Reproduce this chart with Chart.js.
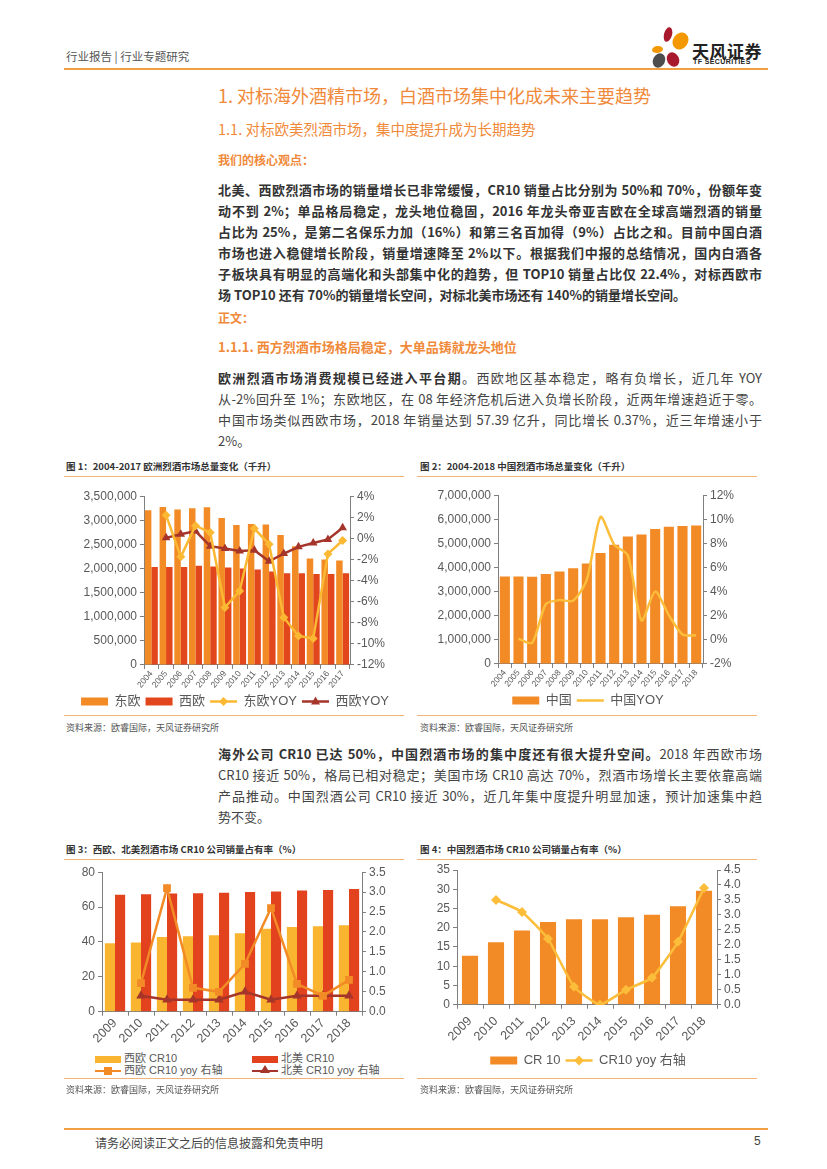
<!DOCTYPE html>
<html>
<head>
<meta charset="utf-8">
<script src="https://cdn.jsdelivr.net/npm/chart.js@4.4.1/dist/chart.umd.min.js"></script>
<style>
body { margin: 0; width: 827px; height: 1169px; position: relative; background: #fff; font-family: "Noto Sans CJK SC", "Noto Sans", sans-serif; color: #333; overflow: hidden; }
.a { position: absolute; white-space: nowrap; }
.hline { position: absolute; height: 1px; background: #F2B27A; }
.orange { color: #F08A3A; }
.ln { position: absolute; left: 218px; width: 544px; line-height: 20px; font-size: 13px; white-space: nowrap; text-align: justify; text-align-last: justify; }
.ln.last { text-align-last: left; }
.bold { font-weight: bold; color: #333; }
.norm { color: #444; }
.figt { position: absolute; font-size: 9.5px; font-weight: bold; color: #333; white-space: nowrap; }
.src { position: absolute; font-size: 9px; color: #555; white-space: nowrap; }
.box { position: absolute; }
.petal { position: absolute; border-radius: 50%; }
.lg3 { position: absolute; font-size: 11px; color: #595959; font-family: "Liberation Sans", "Noto Sans CJK SC", sans-serif; white-space: nowrap; }
.lg3 i { display: inline-block; vertical-align: middle; position: relative; margin-right: 3px; }
</style>
</head>
<body>

<!-- header -->
<div class="a" style="left:66px;top:48px;font-size:11.5px;color:#555;">行业报告 | 行业专题研究</div>
<div class="petal" style="left:664px;top:27px;width:8px;height:15px;background:#A8192E;transform:rotate(15deg);"></div>
<div class="petal" style="left:673px;top:32px;width:15px;height:18px;background:#F39800;transform:rotate(35deg);"></div>
<div class="petal" style="left:652px;top:46px;width:11px;height:7px;background:#F39800;transform:rotate(-10deg);"></div>
<div class="petal" style="left:653px;top:53px;width:12px;height:15px;background:#4D4D4D;transform:rotate(25deg);"></div>
<div class="petal" style="left:667px;top:52px;width:12px;height:15px;background:#A8192E;transform:rotate(-25deg);"></div>
<div class="a" style="left:692px;top:38px;font-size:17px;font-weight:bold;color:#222;letter-spacing:0.5px;">天风证券</div>
<div class="a" style="left:693px;top:58px;font-size:7px;color:#222;font-family:'Liberation Sans',sans-serif;font-weight:bold;letter-spacing:0.4px;">TF SECURITIES</div>
<div class="hline" style="left:64px;top:68px;width:704px;height:2px;background:#F0A040;"></div>

<!-- headings and text -->
<div class="a orange" style="left:218px;top:82px;font-size:18px;">1. 对标海外酒精市场，白酒市场集中化成未来主要趋势</div>
<div class="a orange" style="left:218px;top:118px;font-size:14.5px;">1.1. 对标欧美烈酒市场，集中度提升成为长期趋势</div>
<div class="a orange" style="left:218px;top:151px;font-size:12px;font-weight:bold;">我们的核心观点：</div>

<div class="ln bold" style="top:180px;">北美、西欧烈酒市场的销量增长已非常缓慢，CR10 销量占比分别为 50%和 70%，份额年变</div>
<div class="ln bold" style="top:201px;">动不到 2%；单品格局稳定，龙头地位稳固，2016 年龙头帝亚吉欧在全球高端烈酒的销量</div>
<div class="ln bold" style="top:222px;">占比为 25%，是第二名保乐力加（16%）和第三名百加得（9%）占比之和。目前中国白酒</div>
<div class="ln bold" style="top:243px;">市场也进入稳健增长阶段，销量增速降至 2%以下。根据我们中报的总结情况，国内白酒各</div>
<div class="ln bold" style="top:264px;">子板块具有明显的高端化和头部集中化的趋势，但 TOP10 销量占比仅 22.4%，对标西欧市</div>
<div class="ln bold last" style="top:285px;">场 TOP10 还有 70%的销量增长空间，对标北美市场还有 140%的销量增长空间。</div>

<div class="a orange" style="left:218px;top:309px;font-size:12px;font-weight:bold;">正文：</div>
<div class="a orange" style="left:218px;top:337px;font-size:13px;font-weight:bold;">1.1.1. 西方烈酒市场格局稳定，大单品铸就龙头地位</div>

<div class="ln norm" style="top:368px;"><span class="bold">欧洲烈酒市场消费规模已经进入平台期</span>。西欧地区基本稳定，略有负增长，近几年 YOY</div>
<div class="ln norm" style="top:389px;">从-2%回升至 1%；东欧地区，在 08 年经济危机后进入负增长阶段，近两年增速趋近于零。</div>
<div class="ln norm" style="top:410px;">中国市场类似西欧市场，2018 年销量达到 57.39 亿升，同比增长 0.37%，近三年增速小于</div>
<div class="ln norm last" style="top:431px;">2%。</div>

<!-- figure 1 / 2 frames -->
<div class="figt" style="left:66px;top:459px;">图 1：2004-2017 欧洲烈酒市场总量变化（千升）</div>
<div class="figt" style="left:420px;top:459px;">图 2：2004-2018 中国烈酒市场总量变化（千升）</div>
<div class="hline" style="left:64px;top:476px;width:340px;"></div>
<div class="hline" style="left:417px;top:476px;width:340px;"></div>
<div class="box" style="left:64px;top:486px;width:342px;height:232px;"><canvas id="chart1"></canvas></div>
<div class="box" style="left:417px;top:485px;width:342px;height:232px;"><canvas id="chart2"></canvas></div>
<div class="hline" style="left:64px;top:715px;width:340px;"></div>
<div class="hline" style="left:417px;top:715px;width:340px;"></div>
<div class="src" style="left:66px;top:721px;">资料来源：欧睿国际，天风证券研究所</div>
<div class="src" style="left:420px;top:721px;">资料来源：欧睿国际，天风证券研究所</div>

<div class="ln norm" style="top:744px;"><span class="bold">海外公司 CR10 已达 50%，中国烈酒市场的集中度还有很大提升空间。</span>2018 年西欧市场</div>
<div class="ln norm" style="top:765px;">CR10 接近 50%，格局已相对稳定；美国市场 CR10 高达 70%，烈酒市场增长主要依靠高端</div>
<div class="ln norm" style="top:786px;">产品推动。中国烈酒公司 CR10 接近 30%，近几年集中度提升明显加速，预计加速集中趋</div>
<div class="ln norm last" style="top:807px;">势不变。</div>

<!-- figure 3 / 4 frames -->
<div class="figt" style="left:66px;top:842px;">图 3：西欧、北美烈酒市场 CR10 公司销量占有率（%）</div>
<div class="figt" style="left:420px;top:842px;">图 4：中国烈酒市场 CR10 公司销量占有率（%）</div>
<div class="hline" style="left:64px;top:859px;width:340px;"></div>
<div class="hline" style="left:417px;top:859px;width:340px;"></div>
<div class="box" style="left:64px;top:862px;width:342px;height:184px;"><canvas id="chart3"></canvas></div>
<div class="box" style="left:417px;top:849px;width:342px;height:228px;"><canvas id="chart4"></canvas></div>

<div class="lg3" style="left:95px;top:1049px;"><i style="width:26px;height:7px;background:#F9B530;"></i>西欧 CR10</div>
<div class="lg3" style="left:252px;top:1049px;"><i style="width:26px;height:7px;background:#E2421D;"></i>北美 CR10</div>
<div class="lg3" style="left:95px;top:1061px;"><i style="width:26px;height:2.5px;background:#F28A26;"><b style="position:absolute;left:9px;top:-3px;width:8px;height:8px;background:#F28A26;"></b></i>西欧 CR10 yoy 右轴</div>
<div class="lg3" style="left:252px;top:1061px;"><i style="width:26px;height:2.5px;background:#A5352A;"><b style="position:absolute;left:8px;top:-5px;width:0;height:0;border-left:5px solid transparent;border-right:5px solid transparent;border-bottom:8px solid #A5352A;"></b></i>北美 CR10 yoy 右轴</div>

<div class="hline" style="left:64px;top:1078px;width:340px;"></div>
<div class="hline" style="left:417px;top:1078px;width:340px;"></div>
<div class="src" style="left:66px;top:1083px;">资料来源：欧睿国际，天风证券研究所</div>
<div class="src" style="left:420px;top:1083px;">资料来源：欧睿国际，天风证券研究所</div>

<!-- footer -->
<div class="hline" style="left:64px;top:1128px;width:704px;height:2px;background:#F0A040;"></div>
<div class="a" style="left:95px;top:1134px;font-size:12px;color:#444;">请务必阅读正文之后的信息披露和免责申明</div>
<div class="a" style="left:754px;top:1134px;font-size:12px;color:#444;font-family:'Liberation Sans',sans-serif;">5</div>

<script>
// ---- data ----
var years1 = ['2004', '2005', '2006', '2007', '2008', '2009', '2010', '2011', '2012', '2013', '2014', '2015', '2016', '2017'];
var eastEurope = [3210000, 3278000, 3223000, 3250000, 3271000, 3050000, 2905000, 2925000, 2912000, 2697000, 2460000, 2206000, 2185000, 2165000];
var westEurope = [2033000, 2033000, 2033000, 2060000, 2040000, 2019000, 2000000, 1978000, 1936000, 1902000, 1902000, 1888000, 1888000, 1902000];
var eastYoy = [null, 2.2, -1.75, 1.2, 0.55, -6.56, -4.98, 0.93, -0.55, -7.5, -9.25, -9.5, -1.47, -0.2];
var westYoy = [null, 0.05, 0.4, 0.7, -0.74, -0.96, -1.19, -1.12, -2.17, -1.44, -0.8, -0.43, -0.1, 1.0];

var years2 = ['2004', '2005', '2006', '2007', '2008', '2009', '2010', '2011', '2012', '2013', '2014', '2015', '2016', '2017', '2018'];
var chinaVolume = [3630000, 3630000, 3620000, 3730000, 3840000, 3970000, 4170000, 4600000, 4940000, 5290000, 5370000, 5600000, 5690000, 5720000, 5739000];
var chinaYoy = [null, 0.08, -0.25, 2.95, 3.3, 3.25, 5.0, 10.2, 7.9, 7.0, 1.6, 4.0, 2.05, 0.45, 0.37];

var years3 = ['2009', '2010', '2011', '2012', '2013', '2014', '2015', '2016', '2017', '2018'];
var westCr10 = [39.2, 39.7, 42.8, 43.3, 43.9, 45.0, 47.6, 48.6, 49.0, 49.6];
var naCr10 = [67.0, 67.4, 67.8, 68.0, 68.2, 68.6, 69.0, 69.5, 69.8, 70.3];
var westCr10Yoy = [null, 0.72, 3.1, 0.6, 0.5, 1.2, 2.6, 0.7, 0.4, 0.8];
var naCr10Yoy = [null, 0.4, 0.3, 0.3, 0.3, 0.5, 0.3, 0.4, 0.4, 0.4];

var chinaCr10 = [12.7, 16.2, 19.3, 21.5, 22.2, 22.2, 22.7, 23.4, 25.6, 29.6];
var chinaCr10Yoy = [null, 3.5, 3.1, 2.2, 0.6, 0.0, 0.5, 0.9, 2.1, 3.9];

// ---- shared settings ----
Chart.defaults.font.family = '"Liberation Sans", "Noto Sans CJK SC", sans-serif';
Chart.defaults.color = '#595959';
Chart.defaults.animation = false;

var baseLabels = Chart.defaults.plugins.legend.labels.generateLabels;
function makeLabels(chart) {
    var items = baseLabels(chart);
    items.forEach(function (it) {
        var ds = chart.data.datasets[it.datasetIndex];
        if (ds.type === 'line') {
            it.pointStyle = 'line';
            it.strokeStyle = ds.borderColor;
            it.lineWidth = 2.5;
        } else {
            it.pointStyle = 'rect';
            it.lineWidth = 0;
        }
    });
    return items;
}

function drawMarker(ctx, style, r, x, y) {
    ctx.beginPath();
    if (style === 'rectRot') {
        ctx.moveTo(x, y - r); ctx.lineTo(x + r, y); ctx.lineTo(x, y + r); ctx.lineTo(x - r, y);
    } else if (style === 'triangle') {
        ctx.moveTo(x, y - r); ctx.lineTo(x + r * 0.9, y + r * 0.6); ctx.lineTo(x - r * 0.9, y + r * 0.6);
    } else {
        var h = r * 0.72;
        ctx.rect(x - h, y - h, 2 * h, 2 * h);
    }
    ctx.closePath();
    ctx.fill();
}

// puts the point marker on top of the line sample in the legend
var legendMarkers = {
    id: 'legendMarkers',
    afterDraw: function (chart) {
        var lg = chart.legend;
        if (!lg || !lg.legendHitBoxes || !lg.options.display) return;
        var ctx = chart.ctx;
        var bw = lg.options.labels.pointStyleWidth;
        lg.legendItems.forEach(function (item, i) {
            var ds = chart.data.datasets[item.datasetIndex];
            if (ds.type !== 'line' || !ds.pointRadius) return;
            var hb = lg.legendHitBoxes[i];
            ctx.save();
            ctx.fillStyle = ds.borderColor;
            drawMarker(ctx, ds.pointStyle, ds.pointRadius, hb.left + bw / 2, hb.top + hb.height / 2);
            ctx.restore();
        });
    }
};

function legendOpts(size) {
    return {
        position: 'bottom',
        labels: {
            usePointStyle: true,
            pointStyleWidth: 27,
            boxHeight: 8,
            padding: 5,
            font: { size: size },
            color: '#595959',
            generateLabels: makeLabels,
            sort: function (a, b) { return a.datasetIndex - b.datasetIndex; }
        }
    };
}

function axisGrid() {
    return { drawOnChartArea: false, color: '#7f7f7f', tickLength: 4 };
}

// fixes the width taken by a vertical axis so the plot sits where it should
function fixWidth(w) {
    return function (scale) { scale.width = w; };
}

function thousands(v) { return v.toLocaleString('en-US'); }

// ---- chart 1 ----
new Chart(document.getElementById('chart1'), {
    data: {
        labels: years1,
        datasets: [
            { type: 'bar', label: '东欧', data: eastEurope, backgroundColor: '#F28A26', yAxisID: 'y', order: 2, categoryPercentage: 0.88, barPercentage: 1 },
            { type: 'bar', label: '西欧', data: westEurope, backgroundColor: '#E2461C', yAxisID: 'y', order: 2, categoryPercentage: 0.88, barPercentage: 1 },
            { type: 'line', label: '东欧YOY', data: eastYoy, borderColor: '#FBB832', backgroundColor: '#FBB832', borderWidth: 2.5, pointStyle: 'rectRot', pointRadius: 4.5, pointBorderWidth: 0, yAxisID: 'y1', order: 0 },
            { type: 'line', label: '西欧YOY', data: westYoy, borderColor: '#A5352A', backgroundColor: '#A5352A', borderWidth: 2.5, pointStyle: 'triangle', pointRadius: 5, pointBorderWidth: 0, yAxisID: 'y1', order: 1 }
        ]
    },
    options: {
        maintainAspectRatio: false,
        layout: { padding: { left: 0, right: 0, top: 7, bottom: 0 } },
        plugins: { legend: legendOpts(13), tooltip: { enabled: false } },
        scales: {
            x: { grid: axisGrid(), border: { color: '#7f7f7f' }, ticks: { font: { size: 8.5 }, minRotation: 50, maxRotation: 50, autoSkip: false, padding: 0, color: '#595959' } },
            y: { position: 'left', min: 0, max: 3500000, afterFit: fixWidth(80), grid: axisGrid(), border: { color: '#7f7f7f' }, ticks: { stepSize: 500000, autoSkip: false, font: { size: 12 }, callback: thousands } },
            y1: { position: 'right', min: -12, max: 4, afterFit: fixWidth(56), grid: axisGrid(), border: { color: '#7f7f7f' }, ticks: { stepSize: 2, autoSkip: false, font: { size: 12 }, callback: function (v) { return v + '%'; } } }
        }
    },
    plugins: [legendMarkers]
});

// ---- chart 2 ----
new Chart(document.getElementById('chart2'), {
    data: {
        labels: years2,
        datasets: [
            { type: 'bar', label: '中国', data: chinaVolume, backgroundColor: '#F28A26', yAxisID: 'y', order: 2, categoryPercentage: 0.74, barPercentage: 1 },
            { type: 'line', label: '中国YOY', data: chinaYoy, borderColor: '#FBBD3A', backgroundColor: '#FBBD3A', borderWidth: 2.5, pointRadius: 0, tension: 0.25, yAxisID: 'y1', order: 0 }
        ]
    },
    options: {
        maintainAspectRatio: false,
        layout: { padding: { left: 0, right: 0, top: 7, bottom: 0 } },
        plugins: { legend: legendOpts(13), tooltip: { enabled: false } },
        scales: {
            x: { grid: axisGrid(), border: { color: '#7f7f7f' }, ticks: { font: { size: 8.5 }, minRotation: 50, maxRotation: 50, autoSkip: false, padding: 0, color: '#595959' } },
            y: { position: 'left', min: 0, max: 7000000, afterFit: fixWidth(81), grid: axisGrid(), border: { color: '#7f7f7f' }, ticks: { stepSize: 1000000, autoSkip: false, font: { size: 12 }, callback: thousands } },
            y1: { position: 'right', min: -2, max: 12, afterFit: fixWidth(56), grid: axisGrid(), border: { color: '#7f7f7f' }, ticks: { stepSize: 2, autoSkip: false, font: { size: 12 }, callback: function (v) { return v + '%'; } } }
        }
    },
    plugins: [legendMarkers]
});

// ---- chart 3 ----
new Chart(document.getElementById('chart3'), {
    data: {
        labels: years3,
        datasets: [
            { type: 'bar', label: '西欧 CR10', data: westCr10, backgroundColor: '#F9B530', yAxisID: 'y', order: 2, categoryPercentage: 0.78, barPercentage: 1 },
            { type: 'bar', label: '北美 CR10', data: naCr10, backgroundColor: '#E2421D', yAxisID: 'y', order: 2, categoryPercentage: 0.78, barPercentage: 1 },
            { type: 'line', label: '西欧 CR10 yoy 右轴', data: westCr10Yoy, borderColor: '#F28A26', backgroundColor: '#F28A26', borderWidth: 2.5, pointStyle: 'rect', pointRadius: 5.5, pointBorderWidth: 0, yAxisID: 'y1', order: 0 },
            { type: 'line', label: '北美 CR10 yoy 右轴', data: naCr10Yoy, borderColor: '#A5352A', backgroundColor: '#A5352A', borderWidth: 2.5, pointStyle: 'triangle', pointRadius: 5.5, pointBorderWidth: 0, yAxisID: 'y1', order: 1 }
        ]
    },
    options: {
        maintainAspectRatio: false,
        layout: { padding: { left: 0, right: 0, top: 5, bottom: 0 } },
        plugins: { legend: { display: false }, tooltip: { enabled: false } },
        scales: {
            x: { grid: axisGrid(), border: { color: '#7f7f7f' }, ticks: { font: { size: 12.5 }, minRotation: 45, maxRotation: 45, autoSkip: false, padding: 0, color: '#595959' } },
            y: { position: 'left', min: 0, max: 80, afterFit: fixWidth(38), grid: axisGrid(), border: { color: '#7f7f7f' }, ticks: { stepSize: 20, autoSkip: false, font: { size: 12 } } },
            y1: { position: 'right', min: 0, max: 3.5, afterFit: fixWidth(44), grid: axisGrid(), border: { color: '#7f7f7f' }, ticks: { stepSize: 0.5, autoSkip: false, font: { size: 12 }, callback: function (v) { return v.toFixed(1); } } }
        }
    }
});

// ---- chart 4 ----
new Chart(document.getElementById('chart4'), {
    data: {
        labels: years3,
        datasets: [
            { type: 'bar', label: 'CR 10', data: chinaCr10, backgroundColor: '#F28A26', yAxisID: 'y', order: 2, categoryPercentage: 0.62, barPercentage: 1 },
            { type: 'line', label: 'CR10 yoy 右轴', data: chinaCr10Yoy, borderColor: '#FBBD3A', backgroundColor: '#FBBD3A', borderWidth: 2.5, pointStyle: 'rectRot', pointRadius: 5, pointBorderWidth: 0, tension: 0.15, yAxisID: 'y1', order: 0 }
        ]
    },
    options: {
        maintainAspectRatio: false,
        layout: { padding: { left: 0, right: 0, top: 21, bottom: 0 } },
        plugins: { legend: legendOpts(13), tooltip: { enabled: false } },
        scales: {
            x: { grid: axisGrid(), border: { color: '#7f7f7f' }, ticks: { font: { size: 12.5 }, minRotation: 45, maxRotation: 45, autoSkip: false, padding: 5, color: '#595959' } },
            y: { position: 'left', min: 0, max: 35, afterFit: fixWidth(40), grid: axisGrid(), border: { color: '#7f7f7f' }, ticks: { stepSize: 5, autoSkip: false, font: { size: 12 } } },
            y1: { position: 'right', min: 0, max: 4.5, afterFit: fixWidth(42), grid: axisGrid(), border: { color: '#7f7f7f' }, ticks: { stepSize: 0.5, autoSkip: false, font: { size: 12 }, callback: function (v) { return v.toFixed(1); } } }
        }
    },
    plugins: [legendMarkers]
});
</script>
</body>
</html>
